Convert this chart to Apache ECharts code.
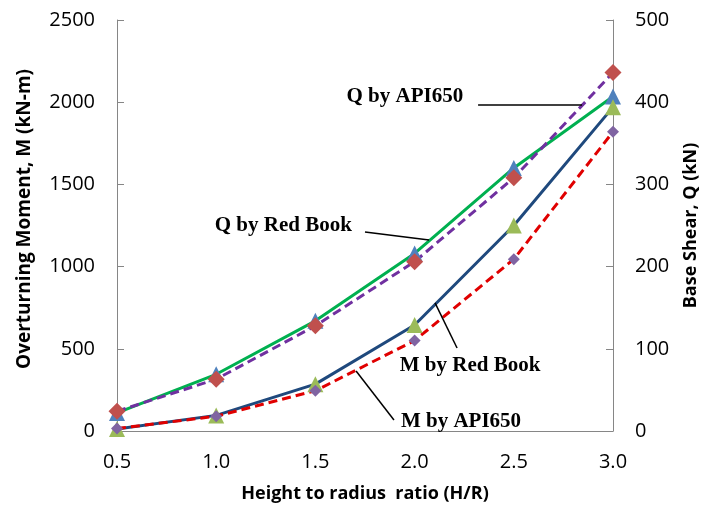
<!DOCTYPE html>
<html>
<head>
<meta charset="utf-8">
<script src="https://cdn.jsdelivr.net/npm/echarts@6/dist/echarts.min.js"></script>
<style>
  html, body { margin: 0; padding: 0; background: #fff; }
  #chart { width: 714px; height: 508px; }
</style>
</head>
<body>
<div id="chart"></div>
<script>
// H/R ratios
const ratios = [0.5, 1.0, 1.5, 2.0, 2.5, 3.0];

// overturning moment, kN-m (left axis)
const mRedBook = [12, 95, 285, 645, 1250, 1970];
const mApi650 = [15, 90, 245, 550, 1045, 1820];

// base shear, kN (right axis)
const qRedBook = [22, 69, 134, 216, 320, 407];
const qApi650 = [24, 63, 128, 206, 308, 436];

// annotation labels, in chart units of the left axis
const notes = [
  { text: 'Q by API650', at: [2.245, 2032], align: 'right' },
  { text: 'Q by Red Book', at: [1.684, 1247], align: 'right' },
  { text: 'M by Red Book', at: [1.925, 395], align: 'left' },
  { text: 'M by API650', at: [1.931, 55], align: 'left' }
];
const leaders = [
  [[2.32, 1983], [2.844, 1983]],
  [[1.75, 1210], [2.073, 1162]],
  [[2.103, 779], [2.214, 505]],
  [[1.705, 365], [1.896, 67]]
];

const pairs = (ys) => ratios.map((x, i) => [x, ys[i]]);

const axisGrey = '#868686';
const labelFont = { fontFamily: 'Open Sans', fontSize: 20, color: '#000' };
const titleFont = { fontFamily: 'Open Sans', fontSize: 18, fontWeight: 'bold', color: '#000' };

const chart = echarts.init(document.getElementById('chart'), null, { renderer: 'canvas' });

chart.setOption({
  animation: false,
  backgroundColor: '#fff',
  grid: { left: 117, right: 101, top: 20, bottom: 77, outerBoundsMode: 'none', containLabel: false },
  xAxis: {
    type: 'value',
    min: 0.5,
    max: 3.0,
    interval: 0.5,
    name: 'Height to radius  ratio (H/R)',
    nameLocation: 'middle',
    nameGap: 54,
    nameTextStyle: titleFont,
    axisLine: { show: true, lineStyle: { color: axisGrey, width: 1 } },
    axisTick: { show: false },
    splitLine: { show: false },
    axisLabel: Object.assign({ margin: 21, formatter: (v) => v.toFixed(1) }, labelFont)
  },
  yAxis: [
    {
      type: 'value',
      min: 0,
      max: 2500,
      interval: 500,
      name: 'Overturning Moment, M (kN-m)',
      nameLocation: 'middle',
      nameGap: 83,
      nameTextStyle: Object.assign({ padding: [0, 0, 0, 13] }, titleFont, { fontSize: 19 }),
      axisLine: { show: true, lineStyle: { color: axisGrey, width: 1 } },
      axisTick: { show: true, inside: true, length: 7, lineStyle: { color: axisGrey } },
      splitLine: { show: false },
      axisLabel: Object.assign({ margin: 22, formatter: (v) => String(v) }, labelFont)
    },
    {
      type: 'value',
      min: 0,
      max: 500,
      interval: 100,
      name: 'Base Shear, Q (kN)',
      nameLocation: 'middle',
      nameGap: 69,
      nameRotate: 90,
      nameTextStyle: titleFont,
      axisLine: { show: true, lineStyle: { color: axisGrey, width: 1 } },
      axisTick: { show: true, inside: true, length: 7, lineStyle: { color: axisGrey } },
      splitLine: { show: false },
      axisLabel: Object.assign({ margin: 22, formatter: (v) => String(v) }, labelFont)
    }
  ],
  series: [
    {
      name: 'Q by Red Book',
      type: 'line',
      yAxisIndex: 1,
      data: pairs(qRedBook),
      lineStyle: { color: '#00B050', width: 3 },
      symbol: 'triangle',
      symbolSize: 16,
      itemStyle: { color: '#4F81BD' }
    },
    {
      name: 'Q by API650',
      type: 'line',
      yAxisIndex: 1,
      data: pairs(qApi650),
      lineStyle: { color: '#7030A0', width: 3, type: [9, 5] },
      symbol: 'diamond',
      symbolSize: 17,
      itemStyle: { color: '#C0504D' }
    },
    {
      name: 'M by Red Book',
      type: 'line',
      yAxisIndex: 0,
      data: pairs(mRedBook),
      lineStyle: { color: '#1F497D', width: 3 },
      symbol: 'triangle',
      symbolSize: 16,
      itemStyle: { color: '#9BBB59' }
    },
    {
      name: 'M by API650',
      type: 'line',
      yAxisIndex: 0,
      data: pairs(mApi650),
      lineStyle: { color: '#E00000', width: 3, type: [9, 5] },
      symbol: 'diamond',
      symbolSize: 12,
      itemStyle: { color: '#8064A2' }
    }
  ]
});

// annotations: placed through the axes so they follow the scales
const toPx = (p) => chart.convertToPixel({ xAxisIndex: 0, yAxisIndex: 0 }, p);
const graphics = [];
leaders.forEach((seg) => {
  const a = toPx(seg[0]), b = toPx(seg[1]);
  graphics.push({
    type: 'line',
    shape: { x1: a[0], y1: a[1], x2: b[0], y2: b[1] },
    style: { stroke: '#000', lineWidth: 1.5 },
    z: 10
  });
});
notes.forEach((n) => {
  const p = toPx(n.at);
  graphics.push({
    type: 'text',
    x: p[0],
    y: p[1],
    style: {
      text: n.text,
      fill: '#000',
      font: 'bold 21px "Liberation Serif"',
      textAlign: n.align,
      textVerticalAlign: 'middle'
    },
    z: 10
  });
});
chart.setOption({ graphic: graphics });
</script>
</body>
</html>
